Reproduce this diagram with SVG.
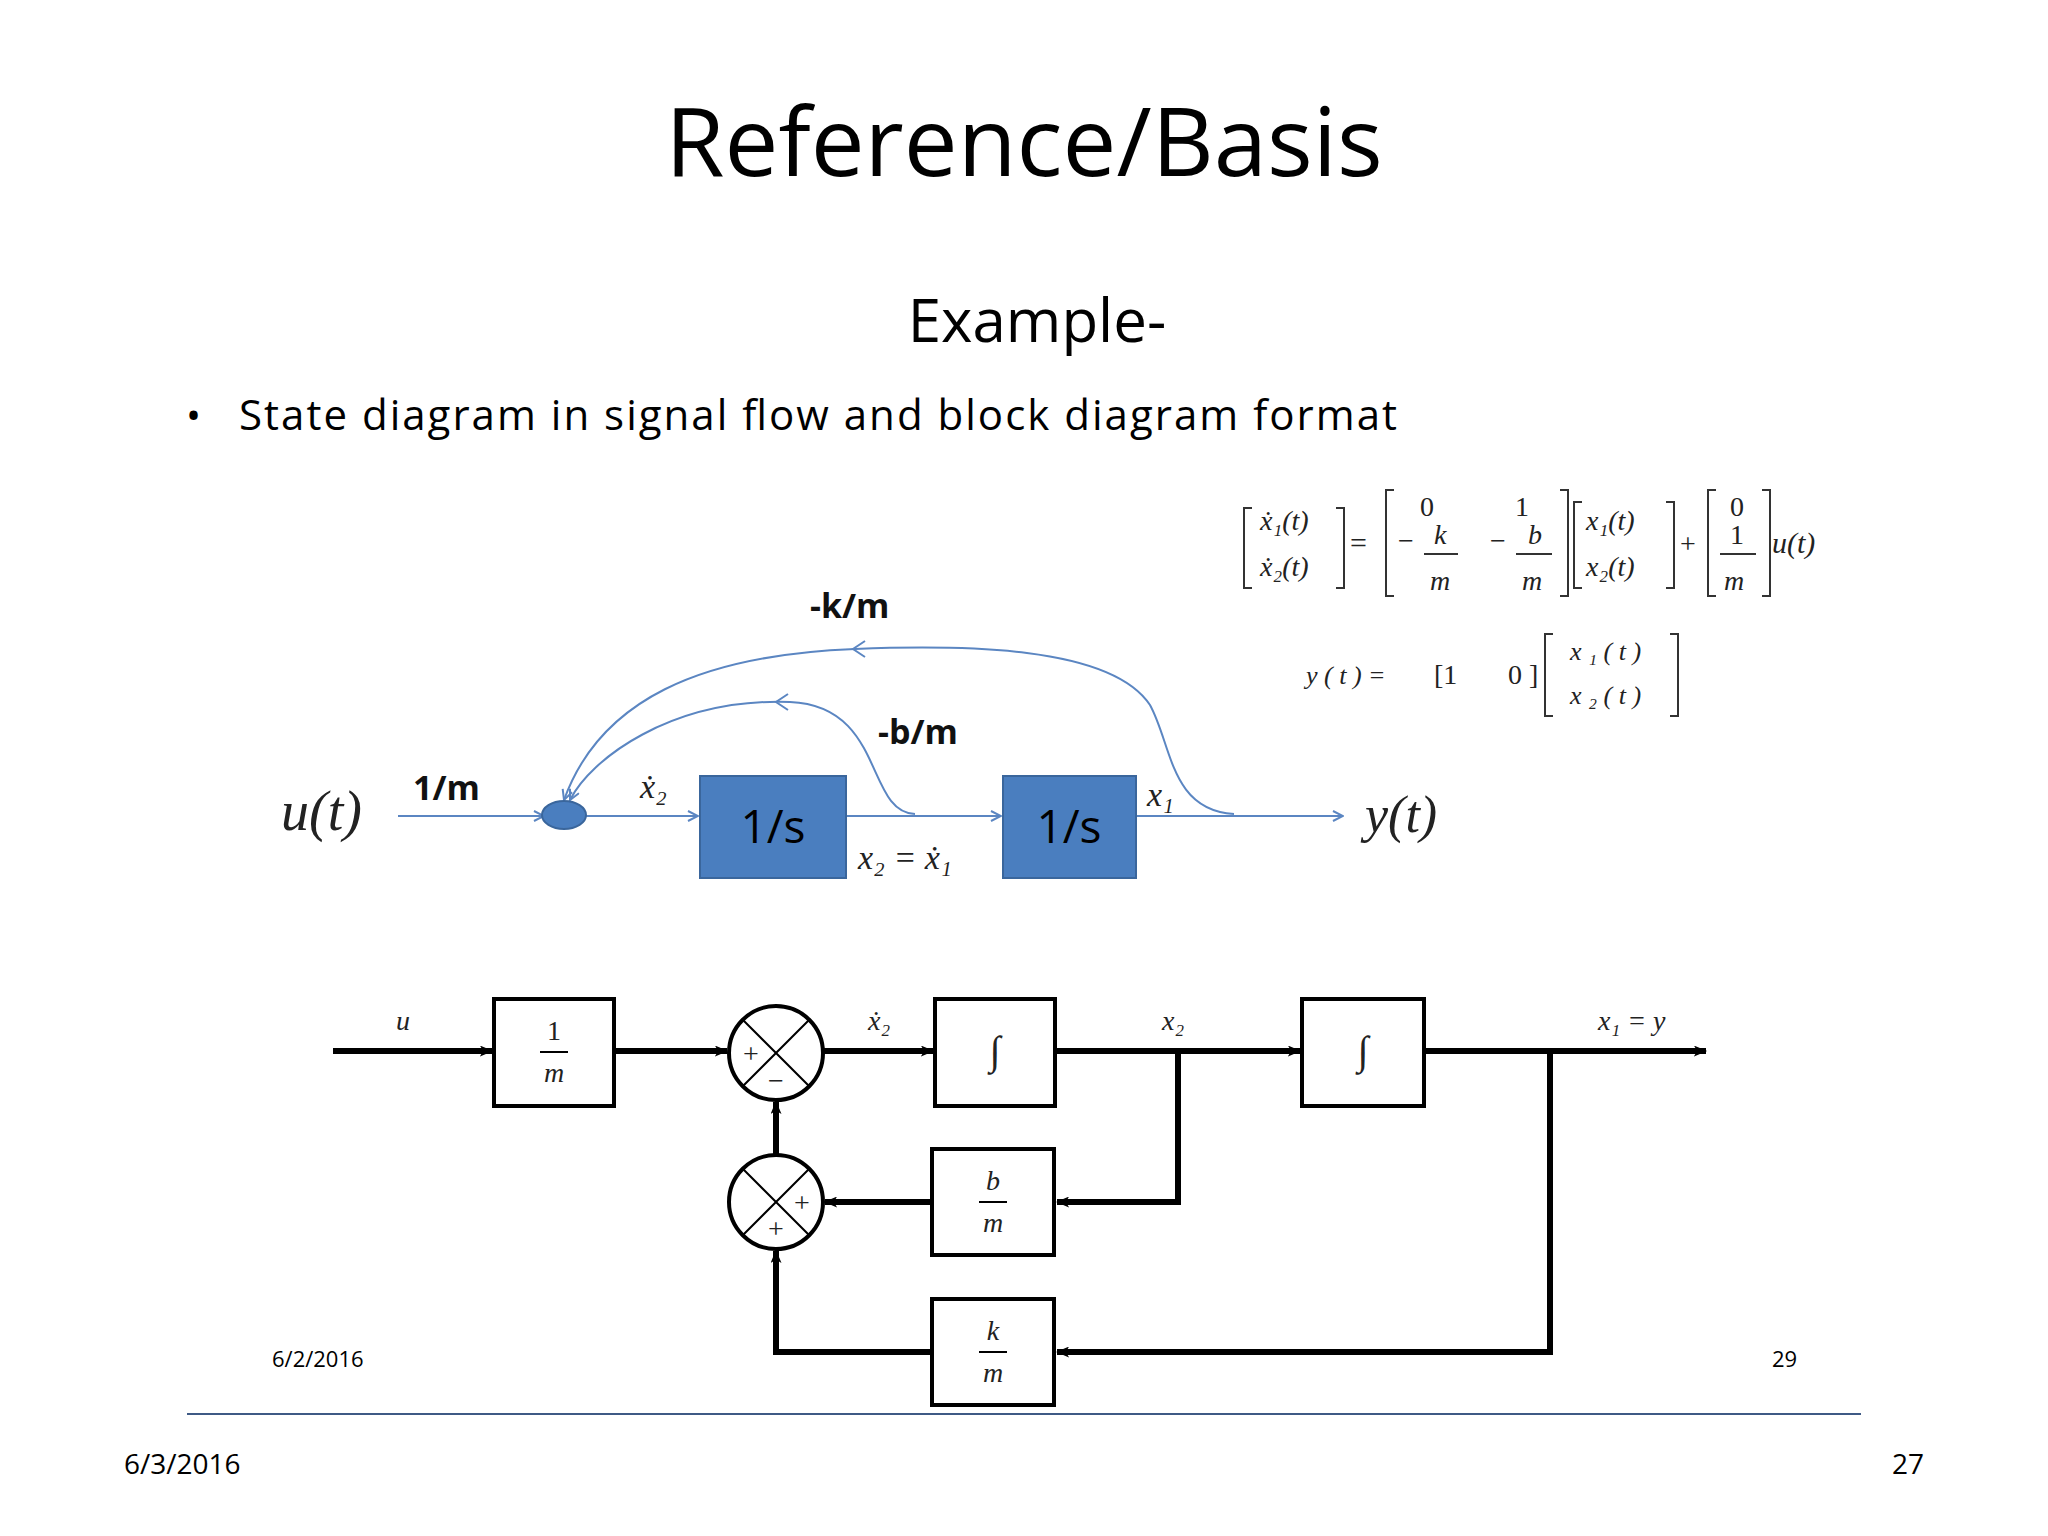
<svg xmlns="http://www.w3.org/2000/svg" width="2048" height="1536" viewBox="0 0 2048 1536">
<style>
.t{font-family:"Open Sans","Liberation Sans",sans-serif;fill:#000}
.bl{font-family:"Open Sans","Liberation Sans",sans-serif;font-weight:bold;font-size:34px;fill:#111}
.m{font-family:"Liberation Serif",serif;font-style:italic;fill:#222}
.mn{font-family:"Liberation Serif",serif;fill:#222}
.sf{fill:none;stroke:#5b86c2;stroke-width:2}
.blk{fill:#fff;stroke:#000;stroke-width:4}
.w{stroke:#000;stroke-width:6;fill:none}
.br{fill:none;stroke:#333;stroke-width:2}
.box{fill:#4a7ebf;stroke:#3a669c;stroke-width:2}
</style>
<defs>
<marker id="ch" viewBox="0 0 12 12" refX="11" refY="6" markerWidth="12" markerHeight="12" markerUnits="userSpaceOnUse" orient="auto"><path d="M1,1 L11,6 L1,11" fill="none" stroke="#5b86c2" stroke-width="2"/></marker>
<marker id="ah" viewBox="0 0 12 10" refX="11" refY="5" markerWidth="14" markerHeight="11" markerUnits="userSpaceOnUse" orient="auto"><path d="M0,0 L12,5 L0,10 L3,5 Z" fill="#000"/></marker>
</defs>
<rect width="2048" height="1536" fill="#fff"/>
<text class="t" x="1024" y="176" font-size="96" text-anchor="middle">Reference/Basis</text>
<text class="t" x="1037" y="342" font-size="60" text-anchor="middle" fill="#222">Example-</text>
<text class="t" x="186" y="430" font-size="40">•</text>
<text class="t" x="239" y="430" font-size="42" fill="#222" textLength="1158">State diagram in signal flow and block diagram format</text>

<!-- equations -->
<g id="eq1">
<path class="br" d="M1252,508 h-8 v80 h8 M1336,508 h8 v80 h-8"/>
<text class="m" x="1260" y="530" font-size="28">ẋ₁(t)</text>
<text class="m" x="1260" y="576" font-size="28">ẋ₂(t)</text>
<text class="mn" x="1350" y="553" font-size="30">=</text>
<path class="br" d="M1394,490 h-8 v106 h8 M1560,490 h8 v106 h-8"/>
<text class="mn" x="1420" y="516" font-size="28">0</text>
<text class="mn" x="1398" y="550" font-size="28">−</text>
<text class="m" x="1434" y="544" font-size="28">k</text>
<line x1="1424" y1="554" x2="1458" y2="554" stroke="#333" stroke-width="2"/>
<text class="m" x="1430" y="590" font-size="28">m</text>
<text class="mn" x="1515" y="516" font-size="28">1</text>
<text class="mn" x="1490" y="550" font-size="28">−</text>
<text class="m" x="1528" y="544" font-size="28">b</text>
<line x1="1516" y1="554" x2="1552" y2="554" stroke="#333" stroke-width="2"/>
<text class="m" x="1522" y="590" font-size="28">m</text>
<path class="br" d="M1582,502 h-8 v86 h8 M1666,502 h8 v86 h-8"/>
<text class="m" x="1586" y="530" font-size="28">x₁(t)</text>
<text class="m" x="1586" y="576" font-size="28">x₂(t)</text>
<text class="mn" x="1680" y="553" font-size="28">+</text>
<path class="br" d="M1716,490 h-8 v106 h8 M1762,490 h8 v106 h-8"/>
<text class="mn" x="1730" y="516" font-size="28">0</text>
<text class="mn" x="1730" y="544" font-size="28">1</text>
<line x1="1720" y1="554" x2="1756" y2="554" stroke="#333" stroke-width="2"/>
<text class="m" x="1724" y="590" font-size="28">m</text>
<text class="m" x="1772" y="553" font-size="30">u(t)</text>
</g>
<g id="eq2">
<text class="m" x="1306" y="684" font-size="26">y ( t )  =</text>
<text class="mn" x="1434" y="684" font-size="28">[1</text>
<text class="mn" x="1508" y="684" font-size="28">0 ]</text>
<path class="br" d="M1553,634 h-8 v82 h8 M1670,634 h8 v82 h-8"/>
<text class="m" x="1570" y="660" font-size="26">x ₁ ( t )</text>
<text class="m" x="1570" y="704" font-size="26">x ₂ ( t )</text>
</g>

<!-- signal flow -->
<g id="sf-connectors">
<line class="sf" x1="398" y1="816" x2="544" y2="816" marker-end="url(#ch)"/>
<line class="sf" x1="585" y1="816" x2="698" y2="816" marker-end="url(#ch)"/>
<line class="sf" x1="846" y1="816" x2="1001" y2="816" marker-end="url(#ch)"/>
<line class="sf" x1="1136" y1="816" x2="1343" y2="816" marker-end="url(#ch)"/>
<path class="sf" d="M915,814 C865,812 885,706 790,702 C670,698 590,760 570,800" marker-end="url(#ch)"/>
<path class="sf" d="M1234,814 C1170,810 1172,745 1150,705 C1110,645 960,645 855,649 C700,655 600,700 564,800" marker-end="url(#ch)"/>
<path d="M788,694 L776,702 L788,710" class="sf"/>
<path d="M865,641 L853,649 L865,657" class="sf"/>
</g>
<g id="sf-nodes">
<text class="m" x="281" y="830" font-size="56" style="font-style:italic">u(t)</text>
<text class="bl" x="413" y="800">1/m</text>
<ellipse cx="564" cy="815" rx="22" ry="14" fill="#4a7ebf" stroke="#3a669c" stroke-width="2"/>
<text class="m" x="640" y="798" font-size="34">ẋ₂</text>
<g id="int1"><rect class="box" x="700" y="776" width="146" height="102"/><text class="t" x="773" y="843" font-size="46" fill="#fff" text-anchor="middle">1/s</text></g>
<g id="int2"><rect class="box" x="1003" y="776" width="133" height="102"/><text class="t" x="1069" y="843" font-size="46" fill="#fff" text-anchor="middle">1/s</text></g>
<text class="m" x="858" y="869" font-size="34">x₂ = ẋ₁</text>
<text class="m" x="1147" y="806" font-size="34">x₁</text>
<text class="bl" x="878" y="744">-b/m</text>
<text class="bl" x="810" y="618">-k/m</text>
<text class="m" x="1365" y="832" font-size="52">y(t)</text>
</g>

<!-- block diagram -->
<g id="bd-connectors">
<line class="w" x1="333" y1="1051" x2="492" y2="1051" marker-end="url(#ah)"/>
<line class="w" x1="614" y1="1051" x2="727" y2="1051" marker-end="url(#ah)"/>
<line class="w" x1="823" y1="1051" x2="933" y2="1051" marker-end="url(#ah)"/>
<line class="w" x1="1055" y1="1051" x2="1300" y2="1051" marker-end="url(#ah)"/>
<line class="w" x1="1424" y1="1051" x2="1706" y2="1051" marker-end="url(#ah)"/>
<polyline class="w" points="1178,1051 1178,1202 1057,1202" marker-end="url(#ah)"/>
<polyline class="w" points="1550,1051 1550,1352 1057,1352" marker-end="url(#ah)"/>
<line class="w" x1="932" y1="1202" x2="825" y2="1202" marker-end="url(#ah)"/>
<polyline class="w" points="932,1352 776,1352 776,1251" marker-end="url(#ah)"/>
<line class="w" x1="776" y1="1155" x2="776" y2="1102" marker-end="url(#ah)"/>
</g>
<g id="bd-nodes">
<text class="m" x="396" y="1030" font-size="28">u</text>
<g id="g1m"><rect class="blk" x="494" y="999" width="120" height="107"/><text class="mn" x="554" y="1040" font-size="28" text-anchor="middle">1</text><line x1="540" y1="1052" x2="568" y2="1052" stroke="#000" stroke-width="2"/><text class="m" x="554" y="1082" font-size="28" text-anchor="middle">m</text></g>
<g id="sum1"><circle cx="776" cy="1053" r="47" fill="#fff" stroke="#000" stroke-width="4"/><path d="M743,1020 L809,1086 M809,1020 L743,1086" stroke="#000" stroke-width="2"/><text class="mn" x="751" y="1063" font-size="28" text-anchor="middle">+</text><text class="mn" x="776" y="1090" font-size="28" text-anchor="middle">−</text></g>
<text class="m" x="868" y="1030" font-size="28">ẋ₂</text>
<g id="i1"><rect class="blk" x="935" y="999" width="120" height="107"/><text class="m" x="995" y="1064" font-size="40" text-anchor="middle">∫</text></g>
<text class="m" x="1162" y="1030" font-size="28">x₂</text>
<g id="i2"><rect class="blk" x="1302" y="999" width="122" height="107"/><text class="m" x="1363" y="1064" font-size="40" text-anchor="middle">∫</text></g>
<text class="m" x="1598" y="1030" font-size="28">x₁ = y</text>
<g id="gb"><rect class="blk" x="932" y="1149" width="122" height="106"/><text class="m" x="993" y="1190" font-size="28" text-anchor="middle">b</text><line x1="979" y1="1202" x2="1007" y2="1202" stroke="#000" stroke-width="2"/><text class="m" x="993" y="1232" font-size="28" text-anchor="middle">m</text></g>
<g id="sum2"><circle cx="776" cy="1202" r="47" fill="#fff" stroke="#000" stroke-width="4"/><path d="M743,1169 L809,1235 M809,1169 L743,1235" stroke="#000" stroke-width="2"/><text class="mn" x="802" y="1212" font-size="28" text-anchor="middle">+</text><text class="mn" x="776" y="1238" font-size="28" text-anchor="middle">+</text></g>
<g id="gk"><rect class="blk" x="932" y="1299" width="122" height="106"/><text class="m" x="993" y="1340" font-size="28" text-anchor="middle">k</text><line x1="979" y1="1352" x2="1007" y2="1352" stroke="#000" stroke-width="2"/><text class="m" x="993" y="1382" font-size="28" text-anchor="middle">m</text></g>
</g>
<text class="t" x="272" y="1367" font-size="22" fill="#999">6/2/2016</text>
<text class="t" x="1772" y="1367" font-size="22" fill="#999">29</text>
<line x1="187" y1="1414" x2="1861" y2="1414" stroke="#3f5a85" stroke-width="2"/>
<text class="t" x="124" y="1474" font-size="28" fill="#777">6/3/2016</text>
<text class="t" x="1892" y="1474" font-size="28" fill="#777">27</text>
</svg>
